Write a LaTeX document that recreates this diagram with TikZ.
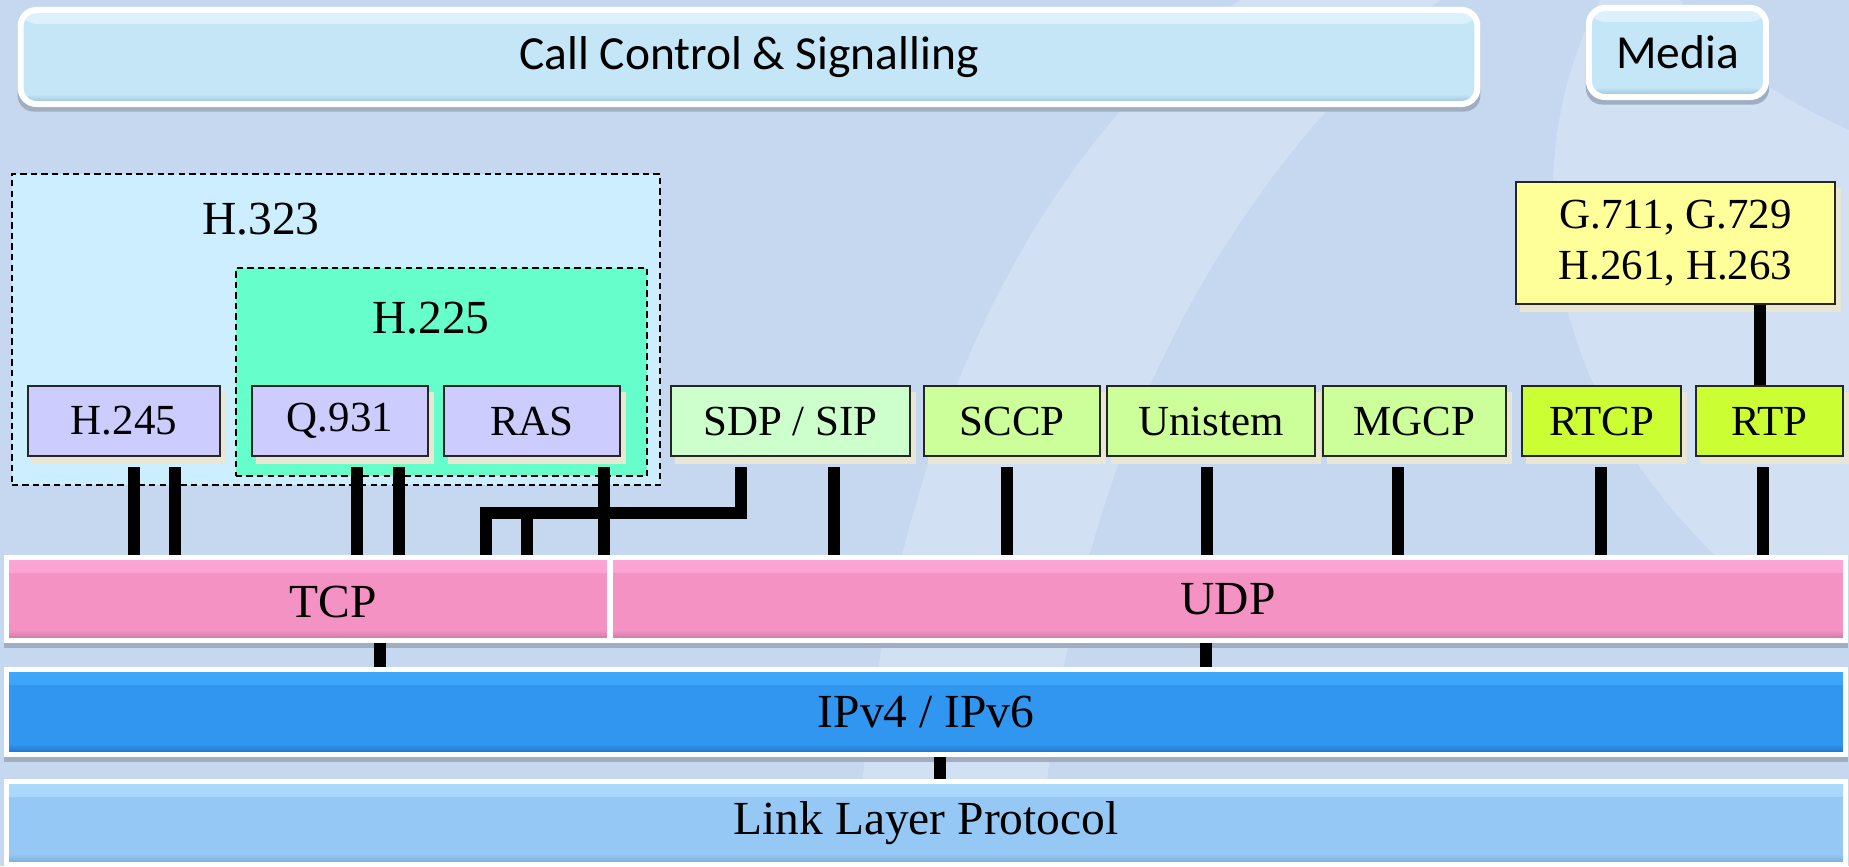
\documentclass[tikz,border=0pt]{standalone}
\usepackage{fontspec}
\setmainfont{Liberation Serif}
\newfontfamily\calibri{Carlito}

\pgfdeclarelayer{back}
\pgfdeclarelayer{shade}
\pgfsetlayers{back,shade,main}

\definecolor{bgblue}{RGB}{198,216,239}
\definecolor{bglight}{RGB}{209,224,243}
\definecolor{ccTop}{RGB}{222,242,252}
\definecolor{ccMid}{RGB}{197,230,247}
\definecolor{ccBot}{RGB}{150,190,212}
\definecolor{h323fill}{RGB}{204,238,255}
\definecolor{h225fill}{RGB}{102,255,204}
\definecolor{lav}{RGB}{204,204,255}
\definecolor{sdpgreen}{RGB}{204,255,204}
\definecolor{ctlgreen}{RGB}{204,255,153}
\definecolor{rtpgreen}{RGB}{204,255,51}
\definecolor{codec}{RGB}{255,255,153}
\definecolor{boxshade}{RGB}{234,230,212}
\definecolor{barshade}{RGB}{160,174,194}
\definecolor{tcpTop}{RGB}{252,166,214}
\definecolor{tcpMid}{RGB}{245,146,196}
\definecolor{tcpBot}{RGB}{196,118,158}
\definecolor{ipTop}{RGB}{62,168,250}
\definecolor{ipMid}{RGB}{48,150,240}
\definecolor{ipBot}{RGB}{30,112,196}
\definecolor{llTop}{RGB}{172,218,252}
\definecolor{llMid}{RGB}{150,200,245}
\definecolor{llBot}{RGB}{118,168,214}

\begin{document}
\begin{tikzpicture}[
  x=0.01cm, y=-0.01cm,
  glossy/.style n args={3}{fill=#2,
    path picture={
      \shade[top color=#1, bottom color=#2] (path picture bounding box.north west) rectangle ([yshift=-0.14cm]path picture bounding box.north east);
      \shade[top color=#2, bottom color=#3] ([yshift=0.1cm]path picture bounding box.south west) rectangle (path picture bounding box.south east);}},
  ctrl/.style={draw=white, line width=0.06cm, rounded corners=0.16cm, glossy={ccTop}{ccMid}{ccBot}, inner sep=0pt, font=\calibri\fontsize{13.5}{16}\selectfont},
  group/.style={draw=black, dash pattern=on 1.8pt off 1.2pt, line width=0.55pt, inner sep=0pt},
  grptxt/.style={font=\fontsize{13.5}{16}\selectfont},
  proto/.style={draw=black!85, line width=0.7pt, inner sep=0pt, minimum height=0.7cm, font=\fontsize{12.2}{14.5}\selectfont},
  bar/.style={draw=white, line width=0.05cm, inner sep=0pt, font=\fontsize{13.5}{16}\selectfont},
  wire/.style={line width=0.12cm, black}
]
\begin{pgfonlayer}{back}
\fill[bgblue] (0,0) rectangle (1849,866);
% light swooshes in the back
\fill[bglight] (1240,0) .. controls (1010,170) and (880,480) .. (855,866) -- (1040,866) .. controls (1060,520) and (1180,220) .. (1440,0) -- cycle;
\fill[bglight] (1600,0) .. controls (1520,150) and (1530,380) .. (1720,560) -- (1849,560) -- (1849,130) .. controls (1760,90) and (1700,40) .. (1680,0) -- cycle;
% H.323 / H.225 groups
\node[group, fill=h323fill, minimum width=6.48cm, minimum height=3.11cm] (h323) at (336,329.5) {};
\node[grptxt] (h323t) at (261,219) {H.323};
\node[group, fill=h225fill, minimum width=4.11cm, minimum height=2.08cm] (h225) at (441.5,372) {};
\node[grptxt] (h225t) at (431,318) {H.225};
\end{pgfonlayer}
\useasboundingbox (0,0) rectangle (1849,866);

% top row
\node[ctrl, minimum width=14.56cm, minimum height=0.94cm] (ctrl) at (749,57) {Call Control \& Signalling};
\node[ctrl, minimum width=1.77cm, minimum height=0.89cm] (media) at (1677.5,52.5) {Media};

% protocol boxes
\node[proto, fill=lav, minimum width=1.92cm] (h245) at (124,421) {H.245};
\node[proto, fill=lav, minimum width=1.76cm] (q931) at (340,421) {Q.931};
\node[proto, fill=lav, minimum width=1.76cm] (ras) at (532,421) {RAS};
\node[proto, fill=sdpgreen, minimum width=2.39cm] (sdp) at (790.5,421) {SDP / SIP};
\node[proto, fill=ctlgreen, minimum width=1.76cm] (sccp) at (1012,421) {SCCP};
\node[proto, fill=ctlgreen, minimum width=2.08cm] (uni) at (1211,421) {Unistem};
\node[proto, fill=ctlgreen, minimum width=1.83cm] (mgcp) at (1414.5,421) {MGCP};
\node[proto, fill=rtpgreen, minimum width=1.59cm] (rtcp) at (1601.5,421) {RTCP};
\node[proto, fill=rtpgreen, minimum width=1.47cm] (rtp) at (1769.5,421) {RTP};
\node[proto, fill=codec, minimum width=3.19cm, minimum height=1.22cm, align=center] (gbox) at (1675.5,243) {G.711, G.729\\H.261, H.263};

% transport and lower layers
\node[bar, glossy={tcpTop}{tcpMid}{tcpBot}, minimum width=6.02cm, minimum height=0.82cm, label={[xshift=0.25cm, yshift=-0.03cm, font=\fontsize{13.5}{16}\selectfont]center:TCP}] (tcp) at (308,599) {};
\node[bar, glossy={tcpTop}{tcpMid}{tcpBot}, minimum width=12.34cm, minimum height=0.82cm] (udp) at (1228,599) {UDP};
\node[bar, glossy={ipTop}{ipMid}{ipBot}, minimum width=18.38cm, minimum height=0.84cm] (ip) at (926,712) {IPv4 / IPv6};
\node[bar, glossy={llTop}{llMid}{llBot}, minimum width=18.38cm, minimum height=0.82cm] (link) at (926,823) {Link Layer Protocol};

% shadows under boxes and bars
\begin{pgfonlayer}{shade}
\foreach \n in {h245,q931,ras,sdp,sccp,uni,mgcp,rtcp,rtp,gbox}
  \fill[boxshade] ([xshift=0.05cm,yshift=-0.07cm]\n.south west) rectangle ([xshift=0.05cm,yshift=-0.07cm]\n.north east);
\foreach \n in {tcp,udp,ip,link}
  \fill[barshade] ([yshift=-0.05cm]\n.south west) rectangle ([yshift=-0.05cm]\n.north east);
\foreach \n in {ctrl,media}
  \fill[barshade, rounded corners=0.16cm] ([yshift=-0.045cm]\n.south west) rectangle ([yshift=-0.045cm]\n.north east);
\end{pgfonlayer}

% wires
\foreach \b/\x in {h245/134,h245/175,q931/357,q931/399,ras/604}
  \draw[wire] (\b.south -| \x,0) ++(0,10) -- (tcp.north -| \x,0);
\foreach \b/\x in {sdp/834,sccp/1007,uni/1207,mgcp/1398,rtcp/1601,rtp/1763}
  \draw[wire] (\b.south -| \x,0) ++(0,10) -- (udp.north -| \x,0);
\coordinate (joinA) at (486,513);
\coordinate (joinB) at (527,513);
\draw[wire, line join=miter] (sdp.south -| 741,0) ++(0,10) |- (joinA) -- (tcp.north -| joinA);
\draw[wire] (joinB) -- (tcp.north -| joinB);
\draw[wire] (gbox.south -| 1760,0) -- (rtp.north -| 1760,0);
\draw[wire] (tcp.south -| 380,0) -- (ip.north -| 380,0);
\draw[wire] (udp.south -| 1206,0) -- (ip.north -| 1206,0);
\draw[wire] (ip.south -| 940,0) -- (link.north -| 940,0);
\end{tikzpicture}
\end{document}
